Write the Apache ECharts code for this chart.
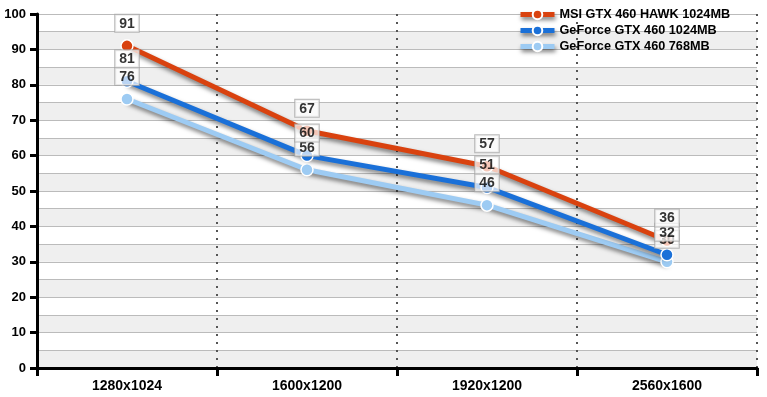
<!DOCTYPE html>
<html>
<head>
<meta charset="utf-8">
<script src="https://cdn.jsdelivr.net/npm/echarts@6/dist/echarts.min.js"></script>
<style>
  html, body { margin: 0; padding: 0; background: #fff; }
  #chart { width: 767px; height: 397px; }
</style>
</head>
<body>
<div id="chart"></div>
<script>
// resolutions on the x axis
const resolutions = ['1280x1024', '1600x1200', '1920x1200', '2560x1600']

// fps per card
const hawk1024 = [91, 67, 57, 36]
const gtx1024 = [81, 60, 51, 32]
const gtx768 = [76, 56, 46, 30]

const seriesNames = ['MSI GTX 460 HAWK 1024MB', 'GeForce GTX 460 1024MB', 'GeForce GTX 460 768MB']
const palette = ['#d9420f', '#1a70d8', '#9dcbf3']

const font = 'Arial, "Liberation Sans", sans-serif'

function lineSeries(name, data, color, z) {
  return {
    name,
    type: 'line',
    data,
    z,
    symbol: 'circle',
    symbolSize: 12,
    lineStyle: {
      color,
      width: 5,
      shadowColor: 'rgba(0,0,0,0.5)',
      shadowBlur: 4,
      shadowOffsetX: 1,
      shadowOffsetY: 3,
    },
    itemStyle: { color, borderColor: '#fff', borderWidth: 1.5 },
    label: { show: false },
  }
}

// value boxes sit above every line, so they live in their own invisible series
function labelSeries(data, z) {
  return {
    type: 'scatter',
    data,
    z,
    symbolSize: 12,
    itemStyle: { color: 'rgba(0,0,0,0)' },
    silent: true,
    label: {
      show: true,
      position: 'top',
      distance: 8,
      color: '#000',
      fontFamily: font,
      fontWeight: 'bold',
      fontSize: 14,
      backgroundColor: 'rgba(255,255,255,0.88)',
      borderColor: '#a8a8a8',
      borderWidth: 1,
      padding: [2, 4, 1, 4],
    },
  }
}

const chart = echarts.init(document.getElementById('chart'))
chart.setOption({
  animation: false,
  color: palette,
  textStyle: { fontFamily: font },
  grid: { left: 37, right: 10, top: 14, bottom: 29 },
  legend: {
    orient: 'vertical',
    left: 513,
    top: 3,
    itemWidth: 34,
    itemHeight: 12,
    itemGap: 3,
    lineStyle: {
      width: 5,
      shadowColor: 'rgba(0,0,0,0.5)',
      shadowBlur: 4,
      shadowOffsetX: 1,
      shadowOffsetY: 3,
    },
    textStyle: { fontFamily: font, fontWeight: 'bold', fontSize: 12.7, color: '#000' },
    data: seriesNames,
  },
  xAxis: {
    type: 'category',
    data: resolutions,
    boundaryGap: true,
    axisLine: { lineStyle: { color: '#000', width: 3 } },
    axisTick: { show: true, length: 8, lineStyle: { color: '#000', width: 3 } },
    axisLabel: { color: '#000', fontFamily: font, fontWeight: 'bold', fontSize: 14, margin: 11 },
    splitLine: { show: true, lineStyle: { color: '#555', width: 2, type: [2, 6] } },
  },
  yAxis: [
    {
      type: 'value',
      min: 0,
      max: 100,
      interval: 10,
      axisLine: { show: true, lineStyle: { color: '#000', width: 3 } },
      axisTick: { show: true, length: 7, lineStyle: { color: '#000', width: 3 } },
      axisLabel: { color: '#000', fontFamily: font, fontWeight: 'bold', fontSize: 13, margin: 11 },
      splitLine: { show: false },
    },
    {
      type: 'value',
      min: 0,
      max: 100,
      interval: 5,
      position: 'left',
      axisLine: { show: false },
      axisTick: { show: false },
      axisLabel: { show: false },
      splitLine: { show: true, lineStyle: { color: '#bbb', width: 1 } },
      splitArea: { show: true, areaStyle: { color: ['#efefef', '#ffffff'] } },
    },
  ],
  series: [
    lineSeries(seriesNames[0], hawk1024, palette[0], 5),
    lineSeries(seriesNames[1], gtx1024, palette[1], 4),
    lineSeries(seriesNames[2], gtx768, palette[2], 3),
    labelSeries(gtx768, 10),
    labelSeries(gtx1024, 11),
    labelSeries(hawk1024, 12),
  ],
})
</script>
</body>
</html>
